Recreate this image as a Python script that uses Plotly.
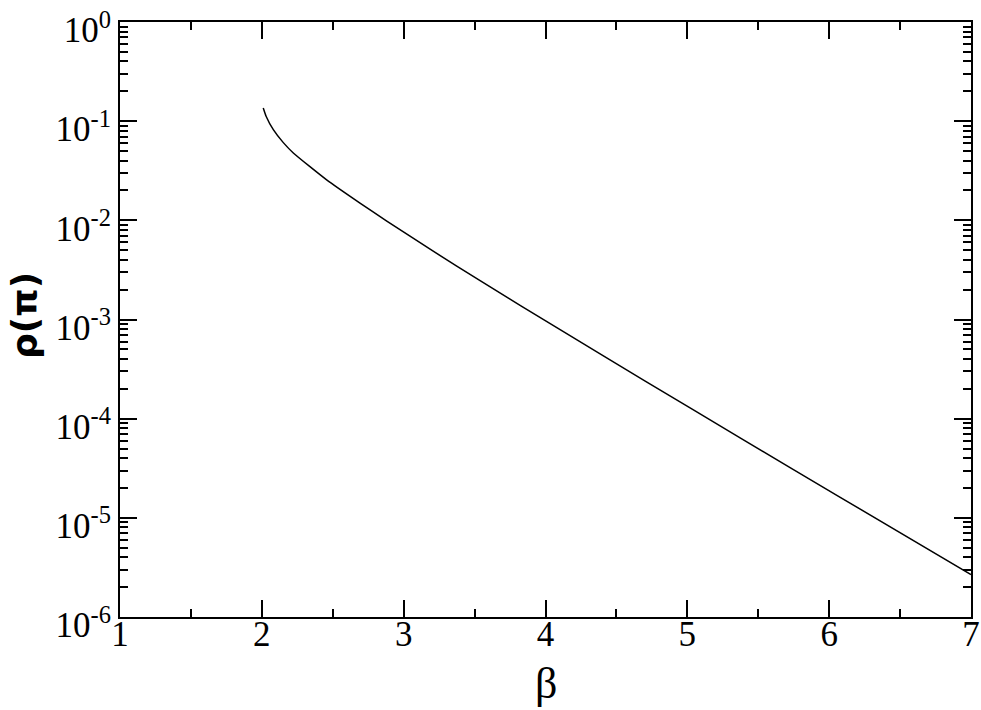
import plotly.graph_objects as go

# curve (beta, rho(pi))
beta = [2.010, 2.030, 2.081, 2.15, 2.222, 2.457, 2.692, 2.881, 3.2, 3.539,
        4.103, 4.7, 5.372, 6.078, 7.0]
rho = [0.1358, 0.1122, 0.0820, 0.0611, 0.0478, 0.0256, 0.01493, 0.00984,
       0.00497, 0.00246, 0.000789, 0.000241, 6.41e-5, 1.61e-5, 2.68e-6]

x_ticks = [1, 2, 3, 4, 5, 6, 7]
y_ticks = [1e0, 1e-1, 1e-2, 1e-3, 1e-4, 1e-5, 1e-6]
y_labels = ['10<sup>0</sup>', '10<sup>-1</sup>', '10<sup>-2</sup>', '10<sup>-3</sup>',
            '10<sup>-4</sup>', '10<sup>-5</sup>', '10<sup>-6</sup>']

fig = go.Figure()
fig.add_trace(go.Scatter(x=beta, y=rho, mode='lines',
                         line=dict(color='black', width=1.5, shape='spline', smoothing=0.5),
                         showlegend=False))

serif = 'Liberation Serif'
fig.update_layout(
    width=981, height=710,
    margin=dict(l=120, r=10, t=22, b=93),
    plot_bgcolor='white', paper_bgcolor='white',
    font=dict(family=serif, color='black', size=35),
)
fig.update_xaxes(
    range=[1, 7], tickvals=x_ticks, ticks='inside', ticklen=17, tickwidth=1.5,
    tickcolor='black', showline=True, linecolor='black', linewidth=2,
    mirror='allticks', showgrid=False, zeroline=False, ticklabeloverflow='allow',
    ticklabelstandoff=-15,
    automargin=False, tickfont=dict(family=serif, size=35),
    minor=dict(dtick=0.5, ticks='inside', ticklen=8, tickwidth=1.5,
               tickcolor='black', showgrid=False),
)
fig.update_yaxes(
    type='log', range=[-6, 0], tickvals=y_ticks, ticktext=y_labels,
    ticks='inside', ticklen=17, tickwidth=1.5, tickcolor='black',
    showline=True, linecolor='black', linewidth=2, mirror='allticks',
    showgrid=False, zeroline=False, ticklabeloverflow='allow',
    ticklabelshift=8,
    automargin=False, tickfont=dict(family=serif, size=35),
    minor=dict(dtick='D1', ticks='inside', ticklen=8, tickwidth=1.5,
               tickcolor='black', showgrid=False),
)

fig.add_annotation(x=0.5, y=-0.1126, xref='paper', yref='paper', showarrow=False,
                   xanchor='center', yanchor='middle',
                   text='β', font=dict(family=serif, size=44))
fig.add_annotation(x=-0.1116, y=0.506, xref='paper', yref='paper', showarrow=False,
                   xanchor='center', yanchor='middle',
                   text='<b>ρ(π)</b>', textangle=-90, font=dict(family='DejaVu Sans', size=36))

# drop the default body margin so the figure fills the window exactly
fig.write_html('out.html', config={'displayModeBar': False},
               post_script='document.body.style.margin = "0";')
